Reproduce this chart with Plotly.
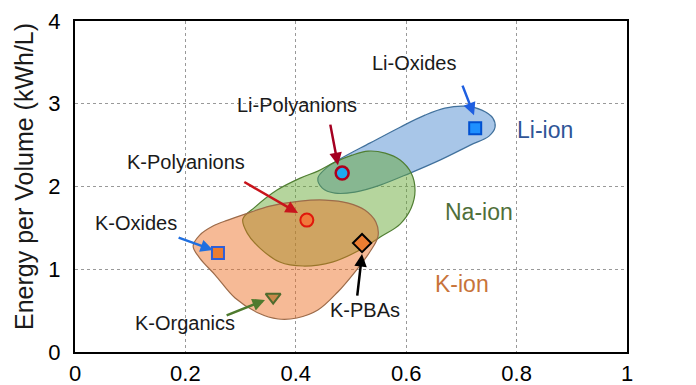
import plotly.graph_objects as go

# ---------------- data ----------------
li_ion_x = [0.661, 0.607, 0.553, 0.507, 0.471, 0.448, 0.440, 0.455, 0.480, 0.534, 0.589, 0.634, 0.670, 0.707, 0.737, 0.757, 0.761, 0.750, 0.716]
li_ion_y = [2.319, 2.162, 2.017, 1.932, 1.920, 1.981, 2.101, 2.222, 2.331, 2.524, 2.717, 2.862, 2.947, 2.971, 2.923, 2.826, 2.717, 2.609, 2.500]

na_ion_x = [0.408, 0.440, 0.471, 0.502, 0.531, 0.562, 0.589, 0.609, 0.616, 0.609, 0.589, 0.553, 0.516, 0.466, 0.413, 0.371, 0.335, 0.312, 0.304, 0.326, 0.366]
na_ion_y = [2.101, 2.186, 2.295, 2.379, 2.428, 2.403, 2.319, 2.162, 1.957, 1.739, 1.546, 1.389, 1.232, 1.087, 1.039, 1.087, 1.256, 1.437, 1.606, 1.751, 1.957]

k_ion_x = [0.408, 0.453, 0.495, 0.525, 0.545, 0.549, 0.534, 0.507, 0.476, 0.440, 0.402, 0.368, 0.332, 0.290, 0.254, 0.226, 0.214, 0.226, 0.250, 0.277, 0.308, 0.353]
k_ion_y = [1.824, 1.836, 1.800, 1.715, 1.570, 1.401, 1.208, 0.966, 0.725, 0.507, 0.411, 0.399, 0.471, 0.652, 0.930, 1.135, 1.280, 1.413, 1.522, 1.594, 1.667, 1.763]

material_names = ["Li-Oxides", "Li-Polyanions", "K-Polyanions", "K-Oxides", "K-PBAs", "K-Organics"]
material_x = [0.725, 0.484, 0.420, 0.259, 0.520, 0.359]
material_y = [2.705, 2.162, 1.594, 1.196, 1.316, 0.664]

x_tick_vals = [0, 0.2, 0.4, 0.6, 0.8, 1]
x_tick_text = ["0", "0.2", "0.4", "0.6", "0.8", "1"]
y_tick_vals = [0, 1, 2, 3, 4]
y_tick_text = ["0", "1", "2", "3", "4"]

# ---------------- styles ----------------
FONT = "Liberation Sans, Arial, sans-serif"

region_styles = [
    ("Li-ion", li_ion_x, li_ion_y, "rgba(168,198,232,1)", "#41719C"),
    ("Na-ion", na_ion_x, na_ion_y, "rgba(98,166,46,0.47)", "#507E32"),
    ("K-ion", k_ion_x, k_ion_y, "rgba(236,108,31,0.47)", "#9C6B4A"),
]

marker_styles = {
    "Li-Oxides": dict(symbol="square", size=12, color="#1E90FF", line=dict(color="#0050D0", width=2)),
    "Li-Polyanions": dict(symbol="circle", size=13, color="#1EAAF0", line=dict(color="#B0001C", width=2.5)),
    "K-Polyanions": dict(symbol="circle", size=13, color="#F07A3C", line=dict(color="#E0180C", width=2)),
    "K-Oxides": dict(symbol="square", size=12, color="#ED7D31", line=dict(color="#2F5FD8", width=2)),
    "K-PBAs": dict(symbol="diamond", size=14, color="#ED7D31", line=dict(color="#000000", width=2)),
    "K-Organics": dict(symbol="triangle-down", size=13, color="#C8884A", line=dict(color="#4E6B2E", width=2)),
}

# label centre (x, y) and arrow tail (x, y), arrow colour
label_layout = {
    "Li-Oxides": ((0.614, 3.49), (0.701, 3.237), "#1F5FE0"),
    "Li-Polyanions": ((0.402, 2.983), (0.462, 2.766), "#A50021"),
    "K-Polyanions": ((0.201, 2.295), (0.304, 2.065), "#C8141C"),
    "K-Oxides": ((0.1105, 1.558), (0.185, 1.389), "#1F6FE0"),
    "K-PBAs": ((0.525, 0.507), (0.511, 0.664), "#000000"),
    "K-Organics": ((0.199, 0.350), (0.272, 0.435), "#4E7A2E"),
}
arrow_tips = {
    "Li-Oxides": (0.7228, 2.862),
    "Li-Polyanions": (0.4764, 2.258),
    "K-Polyanions": (0.404, 1.679),
    "K-Oxides": (0.250, 1.232),
    "K-PBAs": (0.520, 1.184),
    "K-Organics": (0.3442, 0.628),
}

region_labels = [
    ("Li-ion", 0.851, 2.681, "#2F5597"),
    ("Na-ion", 0.732, 1.691, "#4F6F3A"),
    ("K-ion", 0.701, 0.821, "#C8743A"),
]

fig = go.Figure()

for name, xs, ys, fill, edge in region_styles:
    fig.add_trace(go.Scatter(
        x=list(xs) + [xs[0]], y=list(ys) + [ys[0]],
        mode="lines", fill="toself", fillcolor=fill,
        line=dict(color=edge, width=1.2, shape="spline", smoothing=1.0),
        hoverinfo="skip", showlegend=False, name=name,
    ))

for n, x, y in zip(material_names, material_x, material_y):
    fig.add_trace(go.Scatter(
        x=[x], y=[y], mode="markers", marker=marker_styles[n],
        showlegend=False, name=n,
    ))

annotations = []
for n in material_names:
    (lx, ly), (tx, ty), col = label_layout[n]
    hx, hy = arrow_tips[n]
    annotations.append(dict(
        x=hx, y=hy, ax=tx, ay=ty, xref="x", yref="y", axref="x", ayref="y",
        text="", showarrow=True, arrowhead=2, arrowsize=1, arrowwidth=2.5,
        arrowcolor=col, standoff=0, startstandoff=0,
    ))
    annotations.append(dict(
        x=lx, y=ly, xref="x", yref="y", text=n, showarrow=False,
        font=dict(family=FONT, size=20, color="#1a1a1a"),
        xanchor="center", yanchor="middle",
    ))

for t, x, y, c in region_labels:
    annotations.append(dict(
        x=x, y=y, xref="x", yref="y", text=t, showarrow=False,
        font=dict(family=FONT, size=23, color=c),
        xanchor="center", yanchor="middle",
    ))

# page body adds an 8px offset; margins compensate for it
W, H = 688, 377
L, T, PW, PH = 67, 13, 552, 331
annotations.append(dict(
    x=(16 - L) / PW, y=(T + PH - 169) / PH, xref="paper", yref="paper",
    text="Energy per Volume (kWh/L)", showarrow=False, textangle=-90,
    font=dict(family=FONT, size=25, color="#1a1a1a"),
    xanchor="center", yanchor="middle",
))

fig.update_layout(
    width=W, height=H,
    margin=dict(l=L, r=W - L - PW, t=T, b=H - T - PH, autoexpand=False),
    paper_bgcolor="white", plot_bgcolor="white",
    annotations=annotations,
    font=dict(family=FONT, size=22, color="#000"),
    xaxis=dict(
        range=[0, 1], tickvals=x_tick_vals, ticktext=x_tick_text,
        showgrid=True, gridcolor="#999", griddash="dot", gridwidth=1,
        zeroline=False, showline=True, linecolor="black", linewidth=2, mirror=True,
        ticks="", ticklabelstandoff=1, tickfont=dict(size=22), automargin=False,
    ),
    yaxis=dict(
        range=[0, 4], tickvals=y_tick_vals, ticktext=y_tick_text,
        showgrid=True, gridcolor="#999", griddash="dot", gridwidth=1,
        zeroline=False, showline=True, linecolor="black", linewidth=2, mirror=True,
        ticks="", ticklabelstandoff=8, tickfont=dict(size=22), automargin=False,
    ),
)

fig.write_html("out.html")
